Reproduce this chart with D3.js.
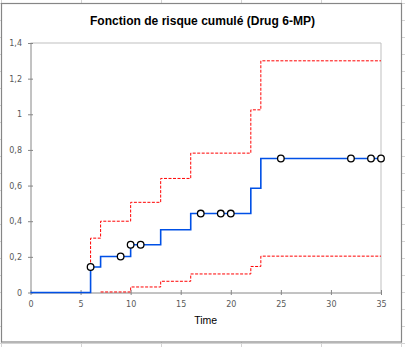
<!DOCTYPE html>
<html>
<head>
<meta charset="utf-8">
<script src="https://cdn.jsdelivr.net/npm/d3@7"></script>
<style>
  html, body { margin: 0; padding: 0; background: #fff; }
  svg { display: block; }
</style>
</head>
<body>
<svg id="chart" width="405" height="347"></svg>
<script>
// ---- data ----
const eventTimes = [6, 7, 10, 13, 16, 22, 23];
const cumHazard  = [0.143, 0.202, 0.268, 0.352, 0.443, 0.585, 0.752];
const upperCI    = [0.305, 0.400, 0.506, 0.640, 0.782, 1.025, 1.300];
const lowerTimes = [7, 10, 13, 16, 22, 23];
const lowerCI    = [0.003, 0.031, 0.063, 0.104, 0.146, 0.204];
const censorTimes = [6, 9, 10, 11, 17, 19, 20, 25, 32, 34, 35];
const xTicks = [0, 5, 10, 15, 20, 25, 30, 35];
const yTicks = [0, 0.2, 0.4, 0.6, 0.8, 1, 1.2, 1.4];
const titleText = "Fonction de risque cumulé (Drug 6-MP)";
const xTitle = "Time";
const xMax = 35;

const svg = d3.select("#chart");
const W = 405, H = 347;

// spreadsheet grid behind the chart
const gridColor = "#d4d4d4";
const grid = svg.append("g");
d3.range(1.5, W, 80).forEach(x => grid.append("line")
  .attr("x1", x).attr("x2", x).attr("y1", 0).attr("y2", H)
  .attr("stroke", gridColor).attr("stroke-width", 1));
d3.range(3.5, H, 17).forEach(y => grid.append("line")
  .attr("x1", 0).attr("x2", W).attr("y1", y).attr("y2", y)
  .attr("stroke", gridColor).attr("stroke-width", 1));

// chart area
svg.append("rect").attr("x", 1.5).attr("y", 3.5).attr("width", 400).attr("height", 338.5)
  .attr("fill", "#fff").attr("stroke", "#868686").attr("stroke-width", 1.2);

const x = d3.scaleLinear().domain([0, xMax]).range([30.5, 381]);
const y = d3.scaleLinear().domain([0, 1.4]).range([292.5, 43]);

// plot area border (top/right light grey)
svg.append("path")
  .attr("d", `M${x(0)},${y(1.4)}H${x(xMax)}V${y(0)}`)
  .attr("fill", "none").attr("stroke", "#bfbfbf").attr("stroke-width", 1);

// title
svg.append("text").attr("x", 202.5).attr("y", 24.5)
  .attr("text-anchor", "middle")
  .attr("font-family", "Liberation Sans, Arial, sans-serif")
  .attr("font-weight", "bold").attr("font-size", 13)
  .attr("textLength", 225).attr("lengthAdjust", "spacingAndGlyphs")
  .attr("fill", "#000").text(titleText);

const fr = d3.formatLocale({decimal: ",", thousands: " ", grouping: [3], currency: ["", "€"]});
const fmt = fr.format("~f");

// axes
const yAxis = svg.append("g").attr("transform", `translate(${x(0)},0)`)
  .call(d3.axisLeft(y).tickValues(yTicks).tickSizeInner(5).tickSizeOuter(0).tickPadding(3.5).tickFormat(fmt));
yAxis.selectAll(".tick line").attr("x1", 2.5).attr("x2", -2.5);
yAxis.selectAll(".tick text").attr("x", -8.5);

const xAxis = svg.append("g").attr("transform", `translate(0,${y(0)})`)
  .call(d3.axisBottom(x).tickValues(xTicks).tickSizeInner(5).tickSizeOuter(0).tickPadding(4.3).tickFormat(d3.format("d")));
xAxis.selectAll(".tick line").attr("y1", -2.5).attr("y2", 2.5);

[yAxis, xAxis].forEach(a => {
  a.select(".domain").attr("stroke", "#868686");
  a.selectAll(".tick line").attr("stroke", "#868686");
  a.selectAll(".tick text").attr("fill", "#595959")
    .attr("font-family", "DejaVu Sans, Verdana, sans-serif").attr("font-size", 8);
});

// x axis title
svg.append("text").attr("x", (x(0) + x(xMax)) / 2).attr("y", 323.5)
  .attr("text-anchor", "middle")
  .attr("font-family", "Liberation Sans, Arial, sans-serif")
  .attr("font-size", 10.5).attr("fill", "#000").text(xTitle);

const step = d3.line().x(d => x(d[0])).y(d => y(d[1])).curve(d3.curveStepAfter);

// confidence bands
const upperPts = [[eventTimes[0], cumHazard[0]]]
  .concat(eventTimes.map((t, i) => [t, upperCI[i]]))
  .concat([[xMax, upperCI[upperCI.length - 1]]]);
const lowerPts = lowerTimes.map((t, i) => [t, lowerCI[i]])
  .concat([[xMax, lowerCI[lowerCI.length - 1]]]);

[upperPts, lowerPts].forEach(pts => svg.append("path")
  .attr("d", step(pts)).attr("fill", "none")
  .attr("stroke", "#ff0000").attr("stroke-width", 1)
  .attr("stroke-dasharray", "3,1.5"));

// cumulative hazard
const hazPts = [[0, 0]].concat(eventTimes.map((t, i) => [t, cumHazard[i]]))
  .concat([[xMax, cumHazard[cumHazard.length - 1]]]);
svg.append("path").attr("d", step(hazPts)).attr("fill", "none")
  .attr("stroke", "#0050e6").attr("stroke-width", 1.6);

// censored marks
function hazAt(t) {
  let v = 0;
  eventTimes.forEach((e, i) => { if (e <= t) v = cumHazard[i]; });
  return v;
}
svg.append("g").selectAll("circle").data(censorTimes).join("circle")
  .attr("cx", d => x(d)).attr("cy", d => y(hazAt(d))).attr("r", 3.3)
  .attr("fill", "#fff").attr("stroke", "#000").attr("stroke-width", 1.3);
</script>
</body>
</html>
